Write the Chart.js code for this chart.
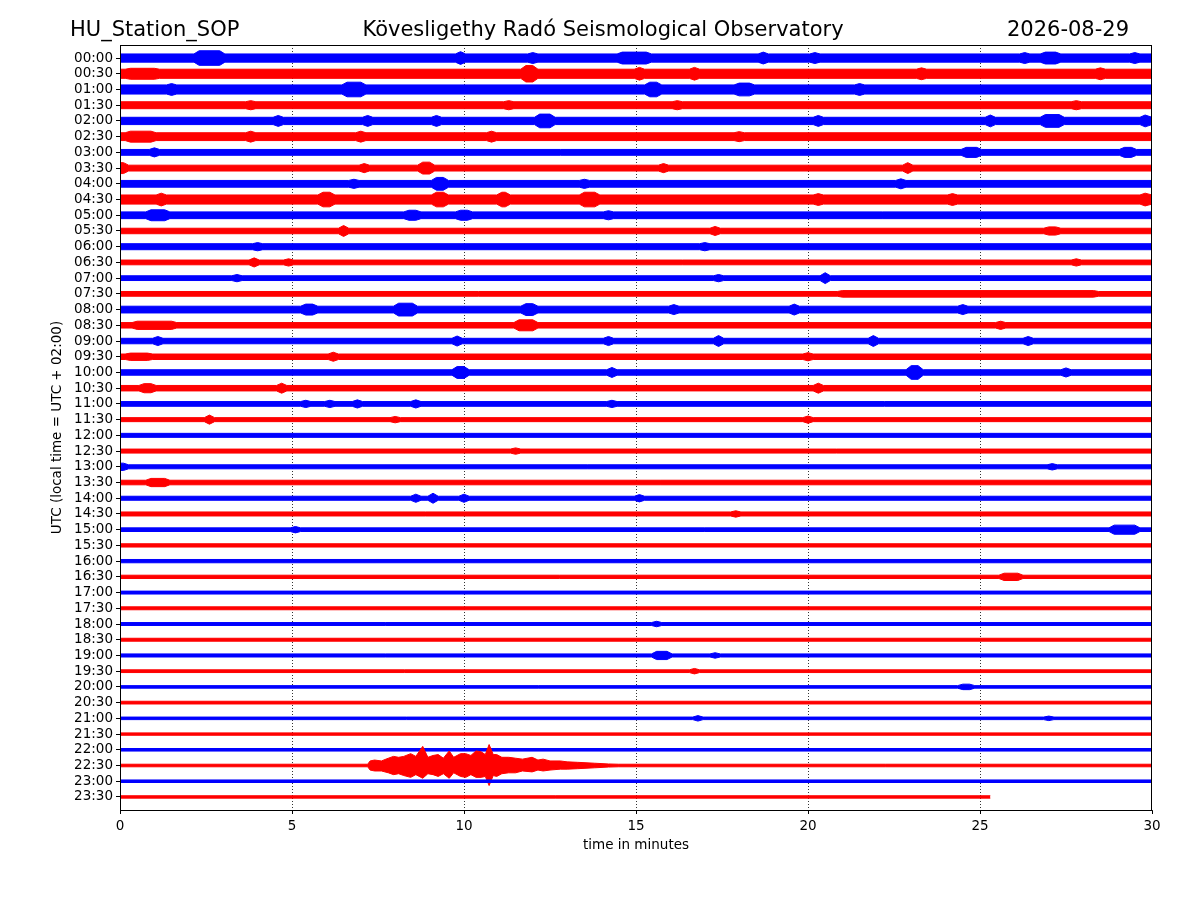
<!DOCTYPE html>
<html>
<head>
<meta charset="utf-8">
<title>HU_Station_SOP helicorder</title>
<script src="https://cdn.jsdelivr.net/npm/chart.js@4.4.1/dist/chart.umd.min.js"></script>
<style>
  html, body { margin: 0; padding: 0; background: #fff; }
  #wrap { width: 1200px; height: 900px; }
</style>
</head>
<body>
<div id="wrap"><canvas id="heli" width="1200" height="900"></canvas></div>
<script>
const stationName = "HU_Station_SOP";
const observatory = "Kövesligethy Radó Seismological Observatory";
const dayLabel = "2026-08-29";

const traceLabels = [
  "00:00","00:30","01:00","01:30","02:00","02:30","03:00","03:30",
  "04:00","04:30","05:00","05:30","06:00","06:30","07:00","07:30",
  "08:00","08:30","09:00","09:30","10:00","10:30","11:00","11:30",
  "12:00","12:30","13:00","13:30","14:00","14:30","15:00","15:30",
  "16:00","16:30","17:00","17:30","18:00","18:30","19:00","19:30",
  "20:00","20:30","21:00","21:30","22:00","22:30","23:00","23:30"
];
const traceColors = ["#0000ff", "#ff0000"];
const xTicks = [0, 5, 10, 15, 20, 25, 30];

const traceLength = 30;     // minutes per line
const lastTraceEnd = 25.3;  // the 23:30 line stops here

// background noise half-width of every line (relative amplitude)
const baseAmps = [
  4.5, 5, 5, 3.8, 4, 4.3, 3.2, 3.2,
  3.7, 5, 3.7, 3, 3.3, 2.6, 2.6, 2.6,
  3.7, 3, 3, 3, 3, 3, 2.6, 2.2,
  2.2, 2.2, 2.2, 2.5, 2.2, 2.2, 2, 1.8,
  1.8, 1.8, 1.6, 1.6, 1.6, 1.6, 1.7, 1.5,
  1.4, 1.5, 1.4, 1.3, 1.4, 1.4, 1.4, 1.3
];

// louder bits on each line: [from minute, to minute, half-width]
const bursts = [
  [[2.3,2.9,8],[9.9,9.9,7],[12,12,6],[14.6,15.3,6.5],[18.7,18.7,6.5],[20.2,20.2,6],[26.3,26.3,6],[26.9,27.2,6.5],[29.5,29.5,6]],
  [[0.3,1.0,6],[11.8,12.0,9],[15.1,15.1,7],[16.7,16.7,7],[23.3,23.3,6.5],[28.5,28.5,6.5]],
  [[1.5,1.5,6.5],[6.6,7.0,8],[15.4,15.6,8],[18,18.3,7],[21.5,21.5,6.5]],
  [[3.8,3.8,5],[11.3,11.3,5],[16.2,16.2,5],[27.8,27.8,5]],
  [[4.6,4.6,6],[7.2,7.2,6],[9.2,9.2,6],[12.2,12.5,7.5],[20.3,20.3,6],[25.3,25.3,6.5],[26.9,27.3,7],[29.8,30,6.5]],
  [[0.3,0.9,6],[3.8,3.8,6],[7,7,6],[10.8,10.8,6],[18,18,5.5]],
  [[1,1,5],[24.6,24.9,5.5],[29.2,29.4,5.5]],
  [[0,0.1,6],[7.1,7.1,5],[8.8,9.0,6.5],[15.8,15.8,5],[22.9,22.9,6]],
  [[6.8,6.8,5],[9.2,9.4,7],[13.5,13.5,5],[22.7,22.7,5.5]],
  [[1.2,1.2,7],[5.9,6.1,8],[9.2,9.4,8],[11.1,11.2,8],[13.5,13.8,8],[20.3,20.3,6.5],[24.2,24.2,6.5],[29.8,30,7]],
  [[0.9,1.3,6],[8.4,8.6,5.5],[9.9,10.1,5.5],[14.2,14.2,5]],
  [[6.5,6.5,6],[17.3,17.3,5],[27,27.2,4.5]],
  [[4,4,4.5],[17,17,4.5]],
  [[3.9,3.9,5],[4.9,4.9,4],[27.8,27.8,4]],
  [[3.4,3.4,4],[17.4,17.4,4],[20.5,20.5,6]],
  [[21,28.3,3.6]],
  [[5.4,5.6,6],[8.1,8.5,7],[11.8,12,6.5],[16.1,16.1,5.5],[19.6,19.6,6],[24.5,24.5,5.5]],
  [[0.5,1.5,4.5],[11.6,12,6],[25.6,25.6,4.5]],
  [[1.1,1.1,5],[9.8,9.8,5.5],[14.2,14.2,5],[17.4,17.4,6],[21.9,21.9,6],[26.4,26.4,5]],
  [[0.3,0.8,4],[6.2,6.2,5],[20,20,4.5]],
  [[9.8,10,6.5],[14.3,14.3,5.5],[23,23.2,7.5],[27.5,27.5,5]],
  [[0.7,0.9,5],[4.7,4.7,5.5],[20.3,20.3,5.5]],
  [[5.4,5.4,4],[6.1,6.1,4],[6.9,6.9,4.5],[8.6,8.6,4.5],[14.3,14.3,4]],
  [[2.6,2.6,5],[8,8,3.5],[20,20,4]],
  [],
  [[11.5,11.5,3.5]],
  [[0,0.1,4],[27.1,27.1,3.5]],
  [[0.9,1.3,4.5]],
  [[8.6,8.6,4.5],[9.1,9.1,5.5],[10,10,4.5],[15.1,15.1,4]],
  [[17.9,17.9,3.5]],
  [[5.1,5.1,3.5],[28.9,29.5,5]],
  [],
  [],
  [[25.7,26.1,4]],
  [],
  [],
  [[15.6,15.6,3]],
  [],
  [[15.6,15.9,4.5],[17.3,17.3,3]],
  [[16.7,16.7,3]],
  [[24.5,24.7,3]],
  [],
  [[16.8,16.8,3],[27,27,2.5]],
  [],
  [],
  [],
  [],
  []
];

// the 22:30 earthquake (line index 45): upward / downward swing
const quakeTrace = 45;
const quakeMinutes = [7.2,7.27,7.4,7.6,7.8,7.95,8.1,8.25,8.45,8.6,8.8,8.95,9.1,9.25,9.4,9.57,9.7,9.9,10.05,10.2,10.35,10.5,10.62,10.73,10.85,10.95,11.1,11.3,11.5,11.7,11.98,12.15,12.3,12.5,12.8,13.0,13.3,13.8,14.2,14.5];
const quakeUp   = [1.4,5,6,5,8,10,9,10,13,10,21,9,11,12,8,16,9,13,13,11,16,15,12,23,12,12,9,9,8,7,9,6,7,5,5,4,3.5,2.5,1.7,1.4];
const quakeDown = [1.4,5,6,6,8,10,9,11,13,10,14,9,10,12,9,14,8,12,13,10,13,13,12,22,11,12,9,8,8,6,7,5,6,5,4,4,3.5,2.5,1.7,1.4];

// amplitude units -> line spacing
const gain = 0.058;
const shoulder = 0.15;

const buildTracePoints = function (i) {
  let base = baseAmps[i];
  let end = i == traceLabels.length - 1 ? lastTraceEnd : traceLength;
  let pts = [{ t: 0, up: base, down: base }, { t: end, up: base, down: base }];
  for (let b of bursts[i]) {
    pts.push({ t: b[0] - shoulder, up: base, down: base });
    pts.push({ t: b[0], up: b[2], down: b[2] });
    pts.push({ t: b[1], up: b[2], down: b[2] });
    pts.push({ t: b[1] + shoulder, up: base, down: base });
  }
  if (i == quakeTrace) {
    for (let k = 0; k < quakeMinutes.length; k++) {
      pts.push({ t: quakeMinutes[k], up: quakeUp[k], down: quakeDown[k] });
    }
  }
  pts = pts.filter(p => p.t >= 0 && p.t <= end);
  pts.sort((a, b) => a.t - b.t);
  return pts;
};

const buildDatasets = function () {
  let sets = [];
  for (let i = 0; i < traceLabels.length; i++) {
    let color = traceColors[i % 2];
    let pts = buildTracePoints(i);
    // later lines sit on top of earlier ones
    sets.push({
      data: pts.map(p => ({ x: p.t, y: i - p.up * gain })),
      borderColor: color,
      borderWidth: 1,
      pointRadius: 0,
      fill: false,
      tension: 0,
      order: -i
    });
    sets.push({
      data: pts.map(p => ({ x: p.t, y: i + p.down * gain })),
      borderColor: color,
      backgroundColor: color,
      borderWidth: 1,
      pointRadius: 0,
      fill: '-1',
      tension: 0,
      order: -i
    });
  }
  return sets;
};

// frame round the plot + the three header texts
const framePlugin = {
  id: "frame",
  afterDraw(chart) {
    const ctx = chart.ctx;
    const a = chart.chartArea;
    ctx.save();
    ctx.strokeStyle = "#000";
    ctx.lineWidth = 1;
    ctx.strokeRect(a.left + 0.5, a.top + 0.5, a.right - a.left - 1, a.bottom - a.top);
    ctx.fillStyle = "#000";
    ctx.font = '21px "DejaVu Sans"';
    ctx.textBaseline = "alphabetic";
    ctx.textAlign = "left";
    ctx.fillText(stationName, 70, 36);
    ctx.textAlign = "center";
    ctx.fillText(observatory, 603, 36);
    ctx.textAlign = "right";
    ctx.fillText(dayLabel, 1129, 36);
    ctx.restore();
  }
};

document.addEventListener("DOMContentLoaded", function () {
  const ctx = document.getElementById("heli").getContext("2d");
  new Chart(ctx, {
    type: "line",
    data: { datasets: buildDatasets() },
    options: {
      responsive: false,
      animation: false,
      devicePixelRatio: 1,
      layout: { padding: { left: 45, right: 48, top: 45, bottom: 42 } },
      plugins: {
        legend: { display: false },
        tooltip: { enabled: false },
        title: { display: false }
      },
      scales: {
        x: {
          type: "linear",
          min: 0,
          max: traceLength,
          afterBuildTicks: s => { s.ticks = xTicks.map(v => ({ value: v })); },
          ticks: { color: "#000", font: { family: "DejaVu Sans", size: 13.5 }, padding: 4, maxRotation: 0 },
          grid: {
            color: c => (c.tick && c.tick.value > 0 && c.tick.value < traceLength) ? "#000" : "rgba(0,0,0,0)",
            lineWidth: 0.8,
            tickColor: "#000",
            tickLength: 4,
            tickWidth: 1,
            tickBorderDash: []
          },
          border: { color: "#000", width: 1, dash: [1, 2] },
          title: { display: true, text: "time in minutes", color: "#000", font: { family: "DejaVu Sans", size: 13.5 }, padding: { top: 6, bottom: 4 } },
          afterFit: s => { s.height = 48; }
        },
        y: {
          type: "linear",
          reverse: true,
          min: -0.83,
          max: 47.83,
          afterBuildTicks: s => { s.ticks = traceLabels.map((_, i) => ({ value: i })); },
          ticks: {
            color: "#000",
            font: { family: "DejaVu Sans", size: 13.5 },
            padding: 3,
            autoSkip: false,
            callback: v => traceLabels[v]
          },
          grid: { drawOnChartArea: false, tickColor: "#000", tickLength: 4, tickWidth: 1 },
          border: { color: "#000", width: 1 },
          title: { display: true, text: "UTC (local time = UTC + 02:00)", color: "#000", font: { family: "DejaVu Sans", size: 13.5 }, padding: { bottom: 4 } },
          afterFit: s => { s.width = 75; }
        }
      }
    },
    plugins: [framePlugin]
  });
});
</script>
</body>
</html>
